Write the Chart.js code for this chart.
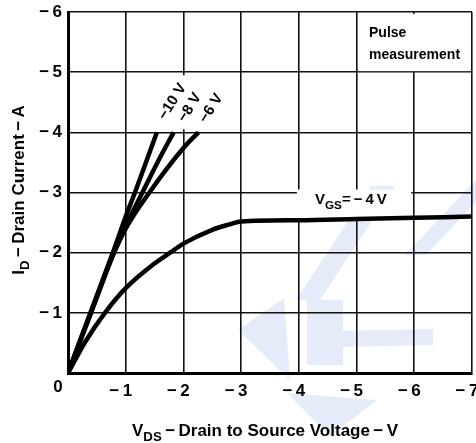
<!DOCTYPE html>
<html>
<head>
<meta charset="utf-8">
<script src="https://cdn.jsdelivr.net/npm/chart.js@4.4.0/dist/chart.umd.min.js"></script>
<style>
  html, body { margin: 0; padding: 0; background: #fff; }
  #wrap { width: 476px; height: 443px; }
</style>
</head>
<body>
<div id="wrap"><canvas id="fet-chart" width="476" height="443"></canvas></div>
<script>
// axis ticks
const vdsTicks = [0, -1, -2, -3, -4, -5, -6, -7];
const idTicks = [0, -1, -2, -3, -4, -5, -6];

// curve names (gate-source voltage)
const vgsNames = ['\u221210 V', '\u22128 V', '\u22126 V', '\u22124 V'];

// V_GS = -10 V
const vdsM10 = [0, -0.4, -0.8, -1.0, -1.16, -1.54];
const idM10 = [0, -1.03, -2.06, -2.6, -3.0, -4.0];
// V_GS = -8 V
const vdsM8 = [0, -0.4, -0.8, -1.0, -1.29, -1.55, -1.83];
const idM8 = [0, -1.02, -2.02, -2.45, -3.0, -3.5, -4.0];
// V_GS = -6 V
const vdsM6 = [0, -0.4, -0.8, -1.0, -1.41, -2.0, -2.26];
const idM6 = [0, -1.0, -2.0, -2.4, -3.0, -3.74, -4.0];
// V_GS = -4 V
const vdsM4 = [0, -0.3, -0.64, -1.0, -1.5, -1.77, -2.0, -2.5, -2.8, -3.0, -4.0, -5.0, -6.0, -7.0];
const idM4 = [0, -0.52, -1.0, -1.41, -1.82, -2.0, -2.15, -2.38, -2.47, -2.52, -2.54, -2.56, -2.58, -2.6];

const FONT = '"Liberation Sans", Arial, Helvetica, sans-serif';
const minus = '\u2212';
const thin = '\u2009';

function toPoints(xs, ys) {
    return xs.map((x, i) => ({ x: x, y: ys[i] }));
}

function curve(name, xs, ys) {
    return {
        label: name,
        data: toPoints(xs, ys),
        showLine: true,
        borderColor: '#000',
        borderWidth: 4.5,
        pointRadius: 0,
        fill: false,
        cubicInterpolationMode: 'monotone'
    };
}

// text with subscripts: parts = [[text, isSub], ...]
function richWidth(ctx, parts, size) {
    let w = 0;
    parts.forEach(p => {
        ctx.font = 'bold ' + (p[1] ? size * 0.78 : size) + 'px ' + FONT;
        w += ctx.measureText(p[0]).width;
    });
    return w;
}
function drawRich(ctx, parts, x, y, size) {
    let cx = x;
    parts.forEach(p => {
        const s = p[1] ? size * 0.78 : size;
        ctx.font = 'bold ' + s + 'px ' + FONT;
        ctx.fillText(p[0], cx, p[1] ? y + size * 0.3 : y);
        cx += ctx.measureText(p[0]).width;
    });
}

// faint watermark behind the grid
const watermark = {
    id: 'watermark',
    beforeDraw(chart) {
        const c = chart.ctx;
        const shapes = [
            [[405, 255], [426, 255], [478, 200], [478, 178]],
            [[296, 300], [320, 300], [395, 186], [371, 186]],
            [[307, 300], [343, 300], [343, 365], [307, 365]],
            [[238, 330], [284, 298], [290, 380]],
            [[343, 331], [433, 329], [433, 345], [343, 347]],
            [[287, 393], [377, 400], [330, 436]]
        ];
        c.save();
        c.fillStyle = '#e5ebf8';
        shapes.forEach(s => {
            c.beginPath();
            s.forEach((p, i) => i ? c.lineTo(p[0], p[1]) : c.moveTo(p[0], p[1]));
            c.closePath();
            c.fill();
        });
        c.restore();
    }
};

const decor = {
    id: 'decor',
    beforeDatasetsDraw(chart) {
        const c = chart.ctx, x = chart.scales.x, y = chart.scales.y;
        c.save();
        c.fillStyle = '#fff';
        // pulse box (covers the -6 V gridline in the top-right cell)
        c.fillRect(x.getPixelForValue(-5) + 2, y.getPixelForValue(-6) + 2,
            x.getPixelForValue(-7) - x.getPixelForValue(-5) - 4, y.getPixelForValue(-5) - y.getPixelForValue(-6) - 3);
        // V_GS = -4 V label box
        c.fillRect(x.getPixelForValue(-4) - 2, y.getPixelForValue(-3) - 3,
            x.getPixelForValue(-6) - x.getPixelForValue(-4) - 1, 30);
        // box under the -10/-8/-6 V labels
        c.fillRect(150, y.getPixelForValue(-5) + 3, 76, y.getPixelForValue(-4) - y.getPixelForValue(-5) - 6);
        c.restore();
    },
    afterDraw(chart) {
        const c = chart.ctx, x = chart.scales.x, y = chart.scales.y;
        c.save();
        c.fillStyle = '#000';
        c.textBaseline = 'alphabetic';

        // origin label
        c.font = 'bold 17px ' + FONT;
        c.textAlign = 'center';
        c.fillText('0', x.getPixelForValue(0) - 10, y.getPixelForValue(0) + 19);

        // curve labels, rotated along the lines
        const tags = [[vgsNames[0], -1.81, -4.51], [vgsNames[1], -2.11, -4.41], [vgsNames[2], -2.48, -4.4]];
        c.font = 'bold 15px ' + FONT;
        c.textBaseline = 'middle';
        tags.forEach(t => {
            c.save();
            c.translate(x.getPixelForValue(t[1]), y.getPixelForValue(t[2]));
            c.rotate(-58 * Math.PI / 180);
            c.fillText(t[0], 0, 0);
            c.restore();
        });

        // V_GS = -4 V
        c.textAlign = 'left';
        c.textBaseline = 'alphabetic';
        drawRich(c, [['V', false], ['GS', true], ['=' + thin + minus + thin + '4' + thin + 'V', false]], 315, 204, 15);

        // pulse measurement
        c.font = 'bold 14px ' + FONT;
        c.fillText('Pulse', 369, 37);
        c.fillText('measurement', 369, 59);

        // x axis title
        const xt = [['V', false], ['DS', true], [thin + minus + thin + 'Drain to Source Voltage' + thin + minus + thin + 'V', false]];
        const xw = richWidth(c, xt, 17);
        drawRich(c, xt, 265 - xw / 2, 436, 17);

        // y axis title
        const yt = [['I', false], ['D', true], [thin + minus + thin + 'Drain Current' + thin + minus + thin + 'A', false]];
        const yw = richWidth(c, yt, 17);
        c.save();
        c.translate(24, 190);
        c.rotate(-Math.PI / 2);
        drawRich(c, yt, -yw / 2, 0, 17);
        c.restore();

        c.restore();
    }
};

const ctx = document.getElementById('fet-chart').getContext('2d');
const fetChart = new Chart(ctx, {
    type: 'scatter',
    data: {
        datasets: [
            curve(vgsNames[0], vdsM10, idM10),
            curve(vgsNames[1], vdsM8, idM8),
            curve(vgsNames[2], vdsM6, idM6),
            curve(vgsNames[3], vdsM4, idM4)
        ]
    },
    options: {
        responsive: false,
        animation: false,
        layout: { padding: { top: 12, right: 4, left: 0, bottom: 0 } },
        plugins: { legend: { display: false }, tooltip: { enabled: false } },
        scales: {
            x: {
                type: 'linear',
                min: -7,
                max: 0,
                reverse: true,
                afterBuildTicks: s => { s.ticks = vdsTicks.map(v => ({ value: v })); },
                afterFit: s => { s.height = 70; s.paddingLeft = 0; s.paddingRight = 0; },
                grid: { color: '#111', lineWidth: 1.6, drawTicks: false },
                border: { color: '#000', width: 3 },
                ticks: {
                    padding: 8,
                    labelOffset: -5,
                    color: '#000',
                    font: { family: FONT, size: 17, weight: 'bold' },
                    callback: v => v === 0 ? '' : minus + thin + Math.abs(v)
                }
            },
            y: {
                type: 'linear',
                min: -6,
                max: 0,
                reverse: true,
                afterBuildTicks: s => { s.ticks = idTicks.map(v => ({ value: v })); },
                afterFit: s => { s.width = 68; s.paddingTop = 0; s.paddingBottom = 0; },
                grid: { color: '#111', lineWidth: 1.6, drawTicks: false },
                border: { color: '#000', width: 3 },
                ticks: {
                    padding: 6,
                    color: '#000',
                    font: { family: FONT, size: 17, weight: 'bold' },
                    callback: v => v === 0 ? '' : minus + thin + Math.abs(v)
                }
            }
        }
    },
    plugins: [watermark, decor]
});
</script>
</body>
</html>
